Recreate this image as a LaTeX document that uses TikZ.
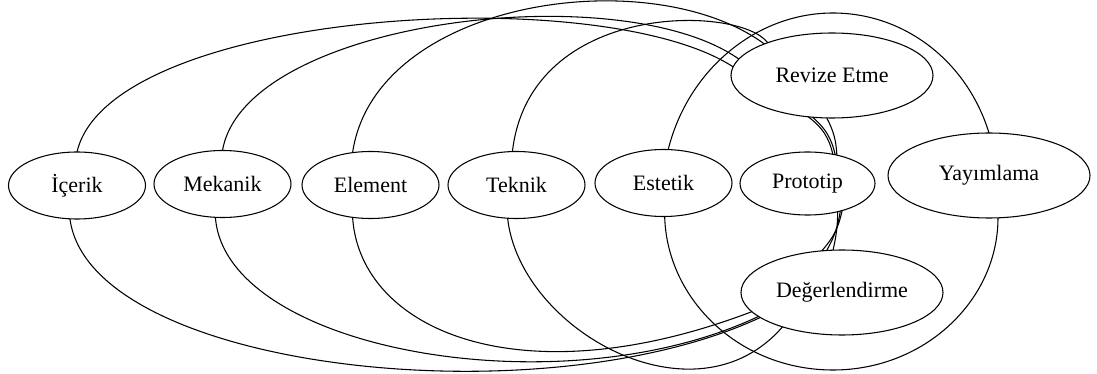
\documentclass[tikz,border=0pt]{standalone}
\usepackage{fontspec}
\setmainfont{Liberation Serif}
\usetikzlibrary{shapes.geometric}
\begin{document}
\begin{tikzpicture}[x=0.75pt,y=-0.75pt,
  oval/.style={draw, ellipse, inner sep=0pt, outer sep=0pt, line width=0.8pt,
    font=\fontsize{16.5}{20}\selectfont},
  sm/.style={oval, minimum width=102.75pt, minimum height=50.25pt},
  lg/.style={oval, minimum width=151.5pt, minimum height=63.75pt},
  link/.style={draw, line width=0.8pt}]
\useasboundingbox (0,0) rectangle (1097,374);

% stages
\node[sm] (icerik)   at (77,185.5)  {İçerik};
\node[sm] (mekanik)  at (222.5,184) {Mekanik};
\node[sm] (element)  at (370.5,185) {Element};
\node[sm] (teknik)   at (516.5,185) {Teknik};
\node[sm] (estetik)  at (663.5,183) {Estetik};
\node[sm, minimum width=101.25pt, minimum height=47.25pt] (prototip) at (807.5,183.5) {Prototip};
\node[lg] (yayimlama) at (989,175.5) {Yayımlama};
\node[lg] (revize)    at (832,75.5)  {Revize Etme};
\node[lg] (degerlendirme) at (842,292.5) {Değerlendirme};

\coordinate (arctop) at (833,13);
\coordinate (arcbot) at (833,370);

% upper arcs into Revize Etme
\draw[link] (icerik.north) .. controls (110,10) and (600,-20) .. (revize.175);
\draw[link] (mekanik.north) .. controls (245,20) and (620,-25) .. (revize.170);
\draw[link] (element.119) .. controls (375,0) and (650,-40) .. (revize.155);
\draw[link] (teknik.97) .. controls (530,0) and (740,5) .. (revize.153);

% lower arcs into Degerlendirme
\draw[link] (icerik.258) .. controls (90,370) and (540,420) .. (degerlendirme.197);
\draw[link] (mekanik.258) .. controls (225,350) and (560,410) .. (degerlendirme.196);
\draw[link] (element.241) .. controls (360,330) and (520,400) .. (degerlendirme.192);
\draw[link] (teknik.255) .. controls (520,330) and (695,428) .. (degerlendirme.210);

% outer loop Estetik -- Yayimlama
\draw[link] (estetik.82) .. controls (688,70) and (756,13) .. (arctop)
  .. controls (904,13) and (967,61) .. (yayimlama.north);
\draw[link] (estetik.272) .. controls (667,300) and (740,370) .. (arcbot)
  .. controls (925,370) and (998,300) .. (yayimlama.282);

% Revize Etme -- Prototip -- Degerlendirme
\draw[link] (revize.240) to[bend left=20] (prototip.49);
\draw[link] (revize.245) to[bend left=18] (prototip.46);
\draw[link] (revize.263) to[bend left=12] (prototip.44);
\draw[link] (prototip.322) to[bend left=15] (degerlendirme.116);
\draw[link] (prototip.320) to[bend left=10] (degerlendirme.110);
\draw[link] (prototip.317) to[bend left=6] (degerlendirme.102);
\end{tikzpicture}
\end{document}
